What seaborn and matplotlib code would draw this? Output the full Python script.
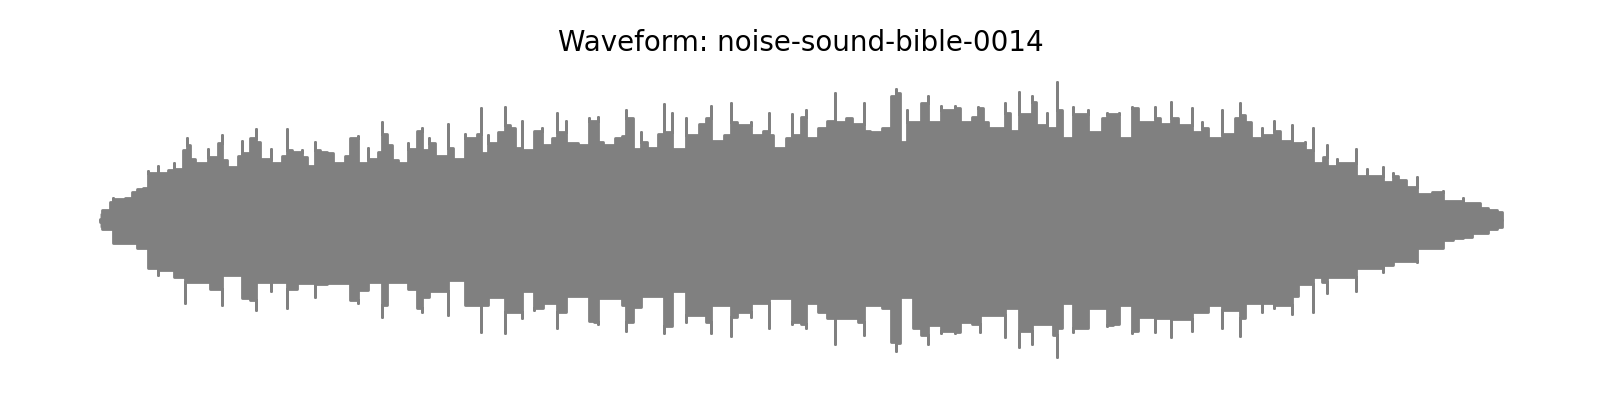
import matplotlib
matplotlib.use('Agg')
import matplotlib.pyplot as plt
import numpy as np
import pandas as pd
import seaborn as sns

TITLE = 'Waveform: noise-sound-bible-0014'
WAVE_COLOR = '#808080'

# peak envelope (frame index, normalised amplitude)
top_frame = [
    0, 2, 10, 13, 18, 25, 32, 37, 43, 48, 52, 58, 63, 68, 74, 78, 83, 87, 90, 95,
    102, 108, 113, 118, 122, 127, 132, 138, 142, 147, 150, 156, 160, 165, 171, 177, 182, 187, 192, 197,
    202, 207, 212, 215, 220, 227, 233, 240, 245, 250, 258, 263, 268, 273, 278, 282, 287, 292, 298, 303,
    308, 312, 317, 322, 327, 329, 335, 342, 348, 353, 358, 365, 372, 377, 381, 385, 388, 393, 398, 405,
    410, 415, 418, 422, 428, 434, 442, 447, 452, 457, 462, 466, 472, 478, 485, 489, 494, 498, 503, 510,
    515, 522, 526, 533, 537, 541, 547, 552, 558, 564, 568, 572, 578, 586, 592, 599, 606, 611, 617, 624,
    631, 637, 644, 651, 657, 663, 669, 673, 679, 686, 692, 697, 701, 706, 712, 718, 727, 735, 740, 746,
    752, 758, 764, 770, 775, 782, 791, 796, 800, 803, 807, 813, 821, 828, 834, 841, 848, 855, 860, 867,
    872, 878, 883, 888, 897, 905, 910, 913, 919, 924, 932, 936, 942, 947, 953, 957, 962, 969, 973, 980,
    988, 995, 1002, 1007, 1013, 1019, 1023, 1032, 1038, 1045, 1055, 1060, 1065, 1071, 1078, 1085, 1092, 1098, 1102, 1108,
    1116, 1122, 1128, 1135, 1140, 1145, 1151, 1157, 1162, 1168, 1174, 1180, 1185, 1192, 1198, 1205, 1209, 1213, 1217, 1223,
    1227, 1232, 1237, 1243, 1250, 1256, 1262, 1267, 1273, 1283, 1288, 1293, 1298, 1306, 1312, 1317, 1323, 1332, 1343, 1352,
    1363, 1372, 1380, 1388, 1397, 1402,
]
top_amp = [
    0.01, 0.07, 0.13, 0.16, 0.15, 0.16, 0.20, 0.22, 0.23, 0.35, 0.34, 0.39, 0.34, 0.36, 0.41, 0.37, 0.50, 0.59, 0.54, 0.44,
    0.41, 0.51, 0.45, 0.55, 0.61, 0.43, 0.38, 0.46, 0.57, 0.48, 0.59, 0.65, 0.56, 0.44, 0.51, 0.41, 0.46, 0.65, 0.50, 0.49,
    0.50, 0.45, 0.39, 0.56, 0.50, 0.49, 0.48, 0.41, 0.46, 0.59, 0.60, 0.41, 0.52, 0.44, 0.49, 0.70, 0.62, 0.54, 0.43, 0.41,
    0.55, 0.51, 0.64, 0.66, 0.50, 0.59, 0.55, 0.46, 0.69, 0.52, 0.44, 0.62, 0.59, 0.62, 0.80, 0.48, 0.61, 0.55, 0.63, 0.81,
    0.68, 0.66, 0.52, 0.71, 0.50, 0.64, 0.66, 0.54, 0.59, 0.77, 0.63, 0.71, 0.55, 0.55, 0.54, 0.73, 0.71, 0.74, 0.56, 0.54,
    0.59, 0.60, 0.79, 0.73, 0.51, 0.63, 0.56, 0.52, 0.62, 0.83, 0.63, 0.77, 0.51, 0.73, 0.61, 0.69, 0.73, 0.82, 0.57, 0.61,
    0.84, 0.70, 0.68, 0.70, 0.61, 0.64, 0.77, 0.61, 0.52, 0.59, 0.76, 0.61, 0.74, 0.79, 0.59, 0.66, 0.71, 0.91, 0.70, 0.73,
    0.73, 0.69, 0.84, 0.64, 0.63, 0.66, 0.89, 0.94, 0.91, 0.56, 0.79, 0.70, 0.84, 0.89, 0.70, 0.82, 0.79, 0.82, 0.80, 0.70,
    0.74, 0.81, 0.80, 0.70, 0.66, 0.84, 0.77, 0.64, 0.92, 0.76, 0.89, 0.85, 0.68, 0.77, 0.66, 0.99, 0.79, 0.59, 0.81, 0.76,
    0.79, 0.63, 0.73, 0.77, 0.76, 0.77, 0.59, 0.81, 0.80, 0.70, 0.81, 0.73, 0.69, 0.85, 0.73, 0.68, 0.80, 0.63, 0.70, 0.66,
    0.59, 0.79, 0.62, 0.73, 0.84, 0.75, 0.70, 0.59, 0.66, 0.61, 0.71, 0.64, 0.57, 0.68, 0.55, 0.56, 0.50, 0.66, 0.41, 0.45,
    0.54, 0.39, 0.44, 0.41, 0.41, 0.51, 0.32, 0.37, 0.32, 0.38, 0.27, 0.34, 0.32, 0.29, 0.24, 0.31, 0.19, 0.20, 0.21, 0.14,
    0.16, 0.12, 0.12, 0.09, 0.07, 0.06,
]

bottom_frame = [
    0, 2, 13, 25, 37, 48, 58, 68, 74, 85, 95, 110, 122, 132, 142, 150, 156, 165, 171, 177,
    187, 197, 207, 215, 227, 240, 250, 258, 268, 273, 282, 287, 298, 308, 317, 322, 329, 342, 348, 358,
    365, 372, 381, 388, 398, 405, 413, 422, 428, 434, 443, 452, 457, 466, 478, 489, 494, 498, 510, 522,
    526, 533, 541, 552, 564, 572, 578, 586, 599, 606, 611, 617, 631, 637, 644, 651, 657, 669, 679, 692,
    697, 701, 706, 712, 718, 727, 735, 746, 758, 764, 770, 782, 791, 796, 800, 803, 813, 821, 828, 834,
    841, 848, 855, 860, 867, 872, 880, 888, 897, 905, 913, 919, 924, 932, 942, 953, 957, 962, 969, 973,
    980, 988, 995, 1007, 1013, 1019, 1023, 1032, 1038, 1045, 1055, 1060, 1071, 1078, 1092, 1098, 1108, 1116, 1122, 1128,
    1140, 1145, 1157, 1162, 1168, 1174, 1180, 1192, 1198, 1205, 1213, 1217, 1222, 1227, 1232, 1243, 1250, 1256, 1262, 1273,
    1283, 1293, 1306, 1317, 1323, 1332, 1343, 1353, 1363, 1372, 1380, 1388, 1397, 1402,
]
bottom_amp = [
    0.01, 0.06, 0.16, 0.16, 0.20, 0.34, 0.39, 0.36, 0.41, 0.59, 0.44, 0.49, 0.61, 0.39, 0.56, 0.57, 0.64, 0.44, 0.51, 0.44,
    0.63, 0.49, 0.45, 0.55, 0.46, 0.45, 0.57, 0.59, 0.50, 0.44, 0.69, 0.61, 0.44, 0.49, 0.63, 0.66, 0.55, 0.51, 0.68, 0.43,
    0.61, 0.61, 0.80, 0.61, 0.55, 0.81, 0.66, 0.70, 0.51, 0.64, 0.63, 0.59, 0.77, 0.66, 0.54, 0.72, 0.73, 0.74, 0.56, 0.61,
    0.79, 0.73, 0.62, 0.54, 0.81, 0.76, 0.51, 0.73, 0.68, 0.73, 0.81, 0.61, 0.83, 0.69, 0.66, 0.69, 0.59, 0.77, 0.56, 0.74,
    0.73, 0.74, 0.77, 0.59, 0.66, 0.70, 0.89, 0.70, 0.73, 0.82, 0.61, 0.63, 0.87, 0.94, 0.88, 0.55, 0.77, 0.82, 0.89, 0.75,
    0.81, 0.79, 0.81, 0.80, 0.73, 0.74, 0.80, 0.68, 0.68, 0.84, 0.63, 0.91, 0.79, 0.89, 0.74, 0.82, 0.98, 0.77, 0.59, 0.80,
    0.77, 0.77, 0.63, 0.76, 0.75, 0.74, 0.61, 0.81, 0.79, 0.69, 0.80, 0.70, 0.84, 0.71, 0.79, 0.66, 0.66, 0.61, 0.77, 0.64,
    0.83, 0.70, 0.59, 0.66, 0.59, 0.63, 0.61, 0.67, 0.54, 0.46, 0.66, 0.41, 0.44, 0.52, 0.41, 0.41, 0.41, 0.51, 0.34, 0.34,
    0.37, 0.32, 0.29, 0.30, 0.20, 0.20, 0.20, 0.14, 0.13, 0.12, 0.09, 0.09, 0.06, 0.05,
]


def spike_outline(frames, amps, sign):
    """Trace the envelope as narrow vertical spikes over a flat body.

    Between two readings the body sits at the lower of the two, so every
    reading shows up as its own thin spike the way the dense waveform does.
    """
    frames = np.asarray(frames, dtype=float)
    amps = np.asarray(amps, dtype=float)
    floor = np.minimum(amps, np.append(amps[1:], 0.0))
    xs, ys = [], []
    prev = 0.0
    for f, a, lo in zip(frames, amps, floor):
        xs.extend([f, f, f])
        ys.extend([prev, a, lo])
        prev = lo
    return pd.DataFrame({'frame': xs, 'amplitude': sign * np.array(ys)})


top = spike_outline(top_frame, top_amp, 1)
bottom = spike_outline(bottom_frame, bottom_amp, -1)

sns.set_theme(style='white')
fig = plt.figure(figsize=(16, 4), dpi=100)
ax = fig.add_axes([0.0187, 0.0725, 0.9639, 0.7575])

# body first (overlapping at zero so no seam shows), outline on top
ax.fill_between(top['frame'], -0.05, top['amplitude'], color=WAVE_COLOR, linewidth=0)
ax.fill_between(bottom['frame'], bottom['amplitude'], 0.05, color=WAVE_COLOR, linewidth=0)
for part in (top, bottom):
    sns.lineplot(data=part, x='frame', y='amplitude', ax=ax, color=WAVE_COLOR,
                 linewidth=2.0, estimator=None, sort=False,
                 solid_capstyle='round', solid_joinstyle='round')

ax.margins(x=0.05)
ax.set_ylim(-1.08, 1.09)
ax.set_axis_off()
ax.set_title(TITLE, fontsize=20, color='black', pad=12)

fig.savefig('out.png', dpi=100)
